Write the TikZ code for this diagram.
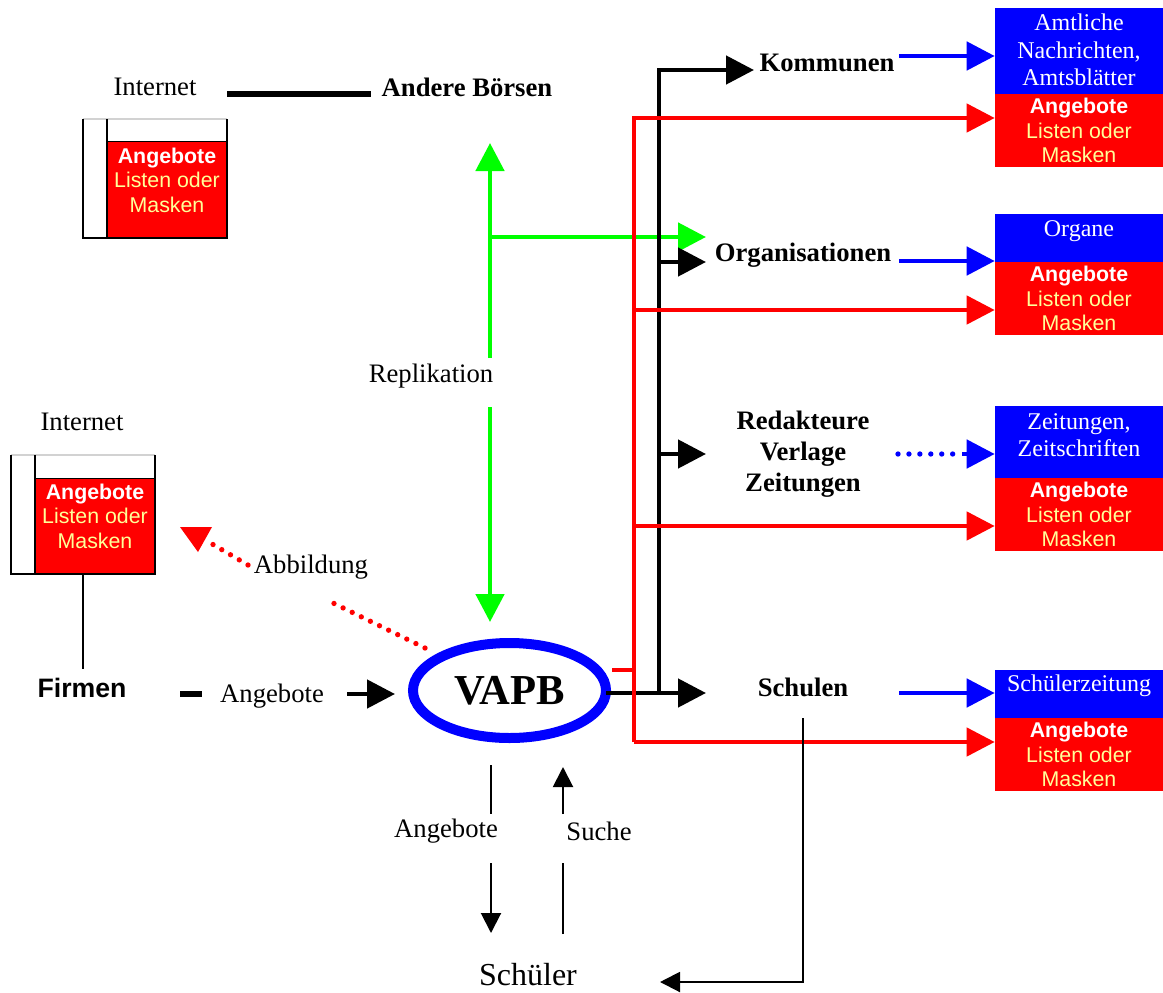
\documentclass[tikz,border=0pt]{standalone}
\usepackage{fontspec}
\setmainfont{Liberation Serif}
\setsansfont{Liberation Sans}
\usetikzlibrary{arrows.meta,shapes.geometric}
\definecolor{cblue}{RGB}{0,0,255}
\definecolor{cred}{RGB}{255,0,0}
\definecolor{cgreen}{RGB}{0,255,0}
\definecolor{cyell}{RGB}{255,255,153}
\begin{document}
\begin{tikzpicture}[x=0.75pt,y=-0.75pt,
  bigtri/.tip={Triangle[length=21pt,width=21pt]},
  smalltri/.tip={Triangle[length=15pt,width=15pt]},
  blk/.style={draw=black,line width=3.5pt},
  redl/.style={draw=cred,line width=3.3pt},
  bluel/.style={draw=cblue,line width=3.5pt},
  greenl/.style={draw=cgreen,line width=3.6pt},
  thinl/.style={draw=black,line width=1.5pt},
  lbl/.style={font=\fontsize{20}{24}\selectfont,inner sep=0pt},
  lblb/.style={font=\fontsize{20}{23.3}\selectfont\bfseries,inner sep=0pt,align=center},
  redbox/.style={fill=cred,minimum width=126pt,minimum height=54.75pt,inner sep=0pt,align=center,
    font=\fontsize{16}{18.4}\selectfont\sffamily,text=cyell},
  bluebox/.style={fill=cblue,minimum width=126pt,inner sep=0pt},
  bluetxt/.style={font=\fontsize{18}{20.5}\selectfont,text=white,align=center,inner sep=0pt},
  redtxt/.style={font=\fontsize{16}{18.4}\selectfont\sffamily,text=cyell,align=center,inner sep=0pt},
  frame/.style={draw=black,line width=1.5pt}
]
\useasboundingbox (0,0) rectangle (1163,992);

% ---------- top-left Internet box ----------
\node[lbl] (internet1) at (155,87) {Internet};
\fill[cred] (107,141) rectangle (227,238);
\draw[black,line width=0.6pt] (107,141) -- (227,141);
\draw[gray!35,line width=1pt] (83,119) -- (227,119);
\draw[frame] (83,119) -- (83,238) -- (227,238) -- (227,119);
\draw[frame] (107,119) -- (107,238);
\node[redtxt] (ibox1) at (167,180) {\textbf{\color{white}Angebote}\\Listen oder\\Masken};
\coordinate (iline1) at (227,94);
\node[lblb] (boersen) at (467,87) {Andere Börsen};
\draw[blk,line width=3.8pt] (iline1) -- (371,94);

% ---------- second Internet box ----------
\node[lbl] (internet2) at (82,422) {Internet};
\fill[cred] (35,478) rectangle (155,574);
\draw[black,line width=0.6pt] (35,478) -- (155,478);
\draw[gray!35,line width=1pt] (11,455) -- (155,455);
\draw[frame] (11,455) -- (11,574) -- (155,574) -- (155,455);
\draw[frame] (35,455) -- (35,574);
\node[redtxt] (ibox2) at (95,516) {\textbf{\color{white}Angebote}\\Listen oder\\Masken};
\coordinate (ibox2b) at (83,574);
\node[font=\fontsize{20}{24}\selectfont\sffamily\bfseries,inner sep=0pt] (firmen) at (82,688) {Firmen};
\draw[thinl] (ibox2b) -- (83,669);

% ---------- VAPB ----------
\node[ellipse,draw=cblue,line width=7.5pt,minimum width=144.75pt,minimum height=71.25pt,
  inner sep=0pt,font=\fontsize{32}{36}\selectfont\bfseries] (vapb) at (509.5,690.5) {VAPB};

% Firmen -> VAPB
\node[lbl] (ang1) at (272,696) {Angebote};
\draw[blk,line width=4pt] (180,694) -- (202,694);
\draw[blk,-bigtri] (347,694) -- (395,694);

% Abbildung (red dotted)
\node[lbl] (abb) at (311,567) {Abbildung};
\draw[cred,line width=4pt,line cap=round,dash pattern=on 0pt off 7.6pt] (425,648) -- (329,601);
\draw[cred,line width=4pt,line cap=round,dash pattern=on 0pt off 7.6pt] (248,565) -- (207,541);
\fill[cred] (180,527) -- (212,527) -- (198,552) -- cycle;

% Replikation (green)
\node[lbl] (repl) at (431,376) {Replikation};
\coordinate (gtop) at (490,358);
\coordinate (gbot) at (490,407);
\draw[greenl,-bigtri] (gtop) -- (490,143);
\draw[greenl,-bigtri] (gbot) -- (490,622);
\draw[greenl,-bigtri] (490,237) -- (706,237);

% ---------- right side labels ----------
\node[lblb] (komm) at (827,63) {Kommunen};
\node[lblb] (org) at (803,255) {Organisationen};
\node[lblb] (redak) at (803,454) {Redakteure\\Verlage\\Zeitungen};
\node[lblb] (schulen) at (803,687) {Schulen};

% black tree
\coordinate (bj) at (659,693);
\draw[blk,-bigtri] (606,693) -- (706,693);
\draw[blk,-bigtri] (bj) -- (659,70) -- (754,70);
\draw[blk,-bigtri] (659,262) -- (706,262);
\draw[blk,-bigtri] (659,454) -- (706,454);

% ---------- boxes on the right ----------
\node[bluebox,minimum height=64.5pt] (b1) at (1079,51) {};
\node[bluetxt] at (1079,50) {Amtliche\\Nachrichten,\\Amtsblätter};
\node[redbox] (r1) at (1079,130.5) {\textbf{\color{white}Angebote}\\Listen oder\\Masken};

\node[bluebox,minimum height=36pt] (b2) at (1079,238) {};
\node[bluetxt] at (1079,231) {Organe};
\node[redbox] (r2) at (1079,298.5) {\textbf{\color{white}Angebote}\\Listen oder\\Masken};

\node[bluebox,minimum height=54pt] (b3) at (1079,442) {};
\node[bluetxt] at (1079,435) {Zeitungen,\\Zeitschriften};
\node[redbox] (r3) at (1079,514.5) {\textbf{\color{white}Angebote}\\Listen oder\\Masken};

\node[bluebox,minimum height=36pt] (b4) at (1079,694) {};
\node[bluetxt] at (1079,686) {Schülerzeitung};
\node[redbox] (r4) at (1079,754.5) {\textbf{\color{white}Angebote}\\Listen oder\\Masken};

% blue arrows
\draw[bluel,-bigtri] (899,56) -- (899,56 -| b1.west);
\draw[bluel,-bigtri] (899,261) -- (899,261 -| b2.west);
\draw[bluel,-bigtri] (899,693) -- (899,693 -| b4.west);
\draw[cblue,line width=4pt,line cap=round,dash pattern=on 0pt off 8.2pt] (898,454) -- (960,454);
\draw[bluel,-bigtri] (962,454) -- (962,454 -| b3.west);

% red tree
\coordinate (rtop) at (634,118);
\coordinate (rbot) at (634,742);
\draw[redl] (612,670) -- (634,670);
\draw[redl,-bigtri] (rbot) -- (rtop) -- (rtop -| r1.west);
\draw[redl,-bigtri] (634,310) -- (634,310 -| r2.west);
\draw[redl,-bigtri] (634,526) -- (634,526 -| r3.west);
\draw[redl,-bigtri] (rbot) -- (rbot -| r4.west);

% ---------- Schüler ----------
\node[font=\fontsize{24}{28}\selectfont,inner sep=0pt] (schueler) at (528,975) {Schüler};
\node[lbl] (ang2) at (446,831) {Angebote};
\node[lbl] (suche) at (599,831) {Suche};
\draw[thinl] (491,765) -- (491,814);
\draw[thinl,-smalltri] (491,863) -- (491,933);
\draw[thinl] (563,934) -- (563,863);
\draw[thinl,-smalltri] (563,814) -- (563,767);
\coordinate (sline) at (803,718);
\draw[thinl,-smalltri] (sline) -- (803,982) -- (660,982);
\end{tikzpicture}
\end{document}
